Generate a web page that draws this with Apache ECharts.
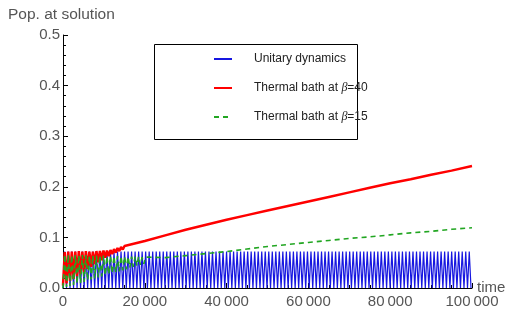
<!DOCTYPE html>
<html>
	<head>
		<meta charset="UTF-8">
		<title>Pop. at solution</title>
		<script type="text/javascript" src="https://cdn.jsdelivr.net/npm/echarts@6/dist/echarts.min.js"></script>
		<style>
			body { margin: 0; background: #fff; }
			#main { width: 511px; height: 320px; }
		</style>
	</head>
	<body>
		<div id="main"></div>
		<script type="text/javascript">
		// half period of the fast oscillation (time units)
		var halfPeriod = 430;
		var tMax = 100000;
		// unitary dynamics: oscillates between these levels for the whole run
		var blueLow = 0.0;
		var blueHigh = 0.072;

		// beta=40: values at each half period at the start, then smooth part
		var redEarly = [0.005, 0.071, 0.009, 0.072, 0.014, 0.072, 0.018, 0.072, 0.023, 0.073,
			0.028, 0.072, 0.032, 0.073, 0.038, 0.072, 0.042, 0.072, 0.047, 0.073,
			0.051, 0.073, 0.055, 0.074, 0.060, 0.074, 0.063, 0.075, 0.067, 0.077,
			0.070, 0.079, 0.073, 0.081, 0.076, 0.083];
		var redLate = [[20000, 0.093], [25000, 0.104], [30000, 0.115], [35000, 0.125], [40000, 0.135],
			[45000, 0.144], [50000, 0.153], [55000, 0.162], [60000, 0.171], [65000, 0.180],
			[70000, 0.189], [75000, 0.198], [80000, 0.207], [85000, 0.215], [90000, 0.224],
			[95000, 0.232], [100000, 0.241]];

		// beta=15
		var greenEarly = [0.000, 0.066, 0.002, 0.066, 0.004, 0.065, 0.006, 0.065, 0.008, 0.065,
			0.010, 0.065, 0.012, 0.065, 0.015, 0.064, 0.017, 0.064, 0.019, 0.064,
			0.021, 0.064, 0.023, 0.064, 0.025, 0.063, 0.027, 0.063, 0.029, 0.063,
			0.031, 0.063, 0.033, 0.063, 0.035, 0.062, 0.037, 0.062, 0.040, 0.062,
			0.042, 0.062, 0.044, 0.062, 0.046, 0.061, 0.048, 0.061];
		var greenLate = [[25000, 0.060], [30000, 0.064], [35000, 0.068], [40000, 0.072], [45000, 0.077],
			[50000, 0.082], [55000, 0.086], [60000, 0.090], [65000, 0.094], [70000, 0.098],
			[75000, 0.101], [80000, 0.105], [85000, 0.109], [90000, 0.112], [95000, 0.116],
			[100000, 0.119]];

		var xTicks = [0, 20000, 40000, 60000, 80000, 100000];
		var yTicks = [0, 0.1, 0.2, 0.3, 0.4, 0.5];

		function withTimes(early, late) {
			var out = [];
			for (var i = 0; i < early.length; i++) {
				out.push([i * halfPeriod, early[i]]);
			}
			return out.concat(late);
		}

		var blue = [];
		for (var k = 0; k * halfPeriod <= tMax; k++) {
			blue.push([k * halfPeriod, k % 2 == 0 ? blueLow : blueHigh]);
		}
		var red = withTimes(redEarly, redLate);
		var green = withTimes(greenEarly, greenLate);

		var labelFont = { color: '#555', fontSize: 15, fontFamily: 'Liberation Sans' };

		var myChart = echarts.init(document.getElementById('main'));
		var option = {
			animation: false,
			textStyle: { fontFamily: 'Liberation Sans' },
			grid: { left: 63, right: 39, top: 35, bottom: 32, outerBoundsMode: 'none', containLabel: false },
			graphic: [
				{
					type: 'text', left: 8, top: 7, z: 10,
					style: { text: 'Pop. at solution', fill: '#555', font: '15.5px Liberation Sans' }
				},
				{
					type: 'rect', z: 3,
					shape: { x: 154.5, y: 44.5, width: 203, height: 95 },
					style: { fill: '#fff', stroke: '#000', lineWidth: 1 }
				}
			],
			legend: {
				z: 5,
				orient: 'vertical',
				left: 208,
				top: 48,
				itemWidth: 18,
				itemHeight: 14,
				itemGap: 17,
				itemStyle: { opacity: 0 },
				data: ['Unitary dynamics', 'Thermal bath at β=40', 'Thermal bath at β=15'],
				formatter: function (name) {
					if (name.indexOf('β') < 0) return '{s|}{t|' + name + '}';
					var parts = name.split('β');
					return '{s|}{t|' + parts[0] + '}{b|β}{t|' + parts[1] + '}';
				},
				textStyle: {
					rich: {
						s: { width: 17 },
						t: { color: '#222', fontSize: 12, fontFamily: 'Liberation Sans' },
						b: { color: '#222', fontSize: 12, fontFamily: 'Liberation Serif', fontStyle: 'italic' }
					}
				}
			},
			xAxis: {
				type: 'value',
				min: xTicks[0],
				max: xTicks[xTicks.length - 1],
				interval: 20000,
				name: 'time',
				nameLocation: 'end',
				nameGap: 5,
				nameMoveOverlap: false,
				nameTextStyle: labelFont,
				splitLine: { show: false },
				axisLine: { onZero: false, lineStyle: { color: '#000', width: 1 } },
				axisTick: { inside: true, length: 5, lineStyle: { color: '#000' } },
				minorTick: { show: true, splitNumber: 4, length: 3, lineStyle: { color: '#000' } },
				axisLabel: Object.assign({
					margin: 6,
					formatter: function (v) {
						if (v < 1000) return String(v);
						var s = String(v);
						return s.slice(0, s.length - 3) + '\u2009' + s.slice(-3);
					}
				}, labelFont)
			},
			yAxis: {
				type: 'value',
				min: yTicks[0],
				max: yTicks[yTicks.length - 1],
				interval: 0.1,
				splitLine: { show: false },
				axisLine: { show: true, lineStyle: { color: '#000', width: 1 } },
				axisTick: { show: true, inside: true, length: 5, lineStyle: { color: '#000' } },
				minorTick: { show: true, splitNumber: 5, length: 3, lineStyle: { color: '#000' } },
				axisLabel: Object.assign({
					margin: 3,
					formatter: function (v) { return v.toFixed(1); }
				}, labelFont)
			},
			series: [
				{
					name: 'Unitary dynamics',
					type: 'line',
					data: blue,
					symbol: 'none',
					z: 1,
					color: '#1a1acc',
					lineStyle: { color: '#1616e0', width: 1.2 }
				},
				{
					name: 'Thermal bath at β=40',
					type: 'line',
					data: red,
					symbol: 'none',
					z: 2,
					color: '#ff0000',
					lineStyle: { color: '#ff0000', width: 2.5 }
				},
				{
					name: 'Thermal bath at β=15',
					type: 'line',
					data: green,
					symbol: 'none',
					z: 2,
					color: '#22a622',
					lineStyle: { color: '#22a622', width: 1.6, type: [5, 4] }
				}
			]
		};
		myChart.setOption(option);
		</script>
	</body>
</html>
